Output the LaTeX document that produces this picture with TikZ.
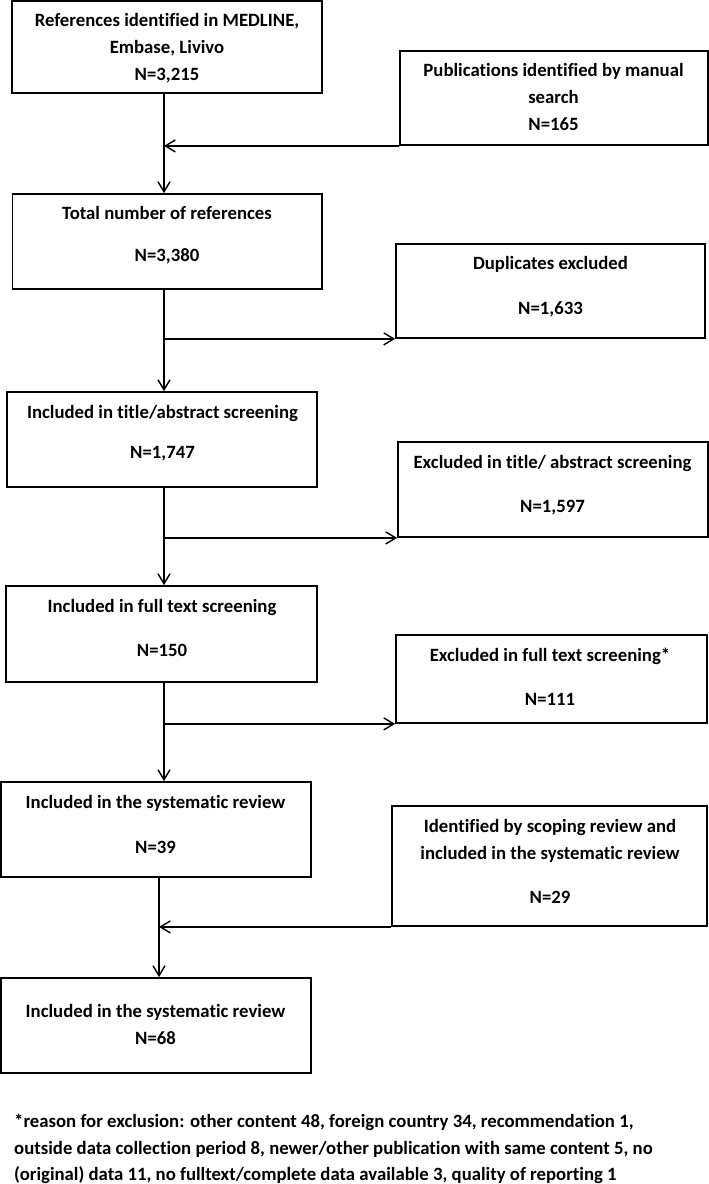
\documentclass[tikz,border=0pt]{standalone}
\usepackage{fontspec}
\setmainfont{Carlito}[Ligatures=NoCommon]
\usetikzlibrary{arrows.meta}
\begin{document}
\begin{tikzpicture}[x=1pt,y=-1pt,
  box/.style={draw=black, line width=1.8pt, rectangle, inner sep=0pt},
  txt/.style={inner sep=0pt, anchor=base, font=\fontsize{18.75}{27}\selectfont\bfseries},
  fnote/.style={inner sep=0pt, anchor=base west, font=\fontsize{18.75}{27}\selectfont\bfseries},
  conn/.style={line width=1.6pt, -{Straight Barb[length=10pt,width=12pt,line width=1.4pt]}}]
\useasboundingbox (0,0) rectangle (709,1184);
\fill[white] (0,0) rectangle (709,1184);

% boxes
\node[box, minimum width=310pt, minimum height=92pt] (b1) at (167,47) {};
\node[box, minimum width=308pt, minimum height=94pt] (pub) at (554,98) {};
\node[box, minimum width=309.5pt, minimum height=95pt] (tot) at (167.25,241.5) {};
\node[box, minimum width=309pt, minimum height=94pt] (dup) at (550.5,291) {};
\node[box, minimum width=310pt, minimum height=95pt] (tas) at (162,439.5) {};
\node[box, minimum width=310pt, minimum height=95pt] (exta) at (553,489.5) {};
\node[box, minimum width=311pt, minimum height=96pt] (fts) at (161.5,634) {};
\node[box, minimum width=311pt, minimum height=88pt] (exft) at (551.5,679) {};
\node[box, minimum width=310pt, minimum height=95pt] (sr) at (156,829.5) {};
\node[box, minimum width=315pt, minimum height=120pt] (scop) at (549.5,866) {};
\node[box, minimum width=310pt, minimum height=95pt] (fin) at (156,1025.5) {};

% texts
\node[txt] (b1t1) at (167,26.5) {References identified in MEDLINE,};
\node[txt] (b1t2) at (167,53.5) {Embase, Livivo};
\node[txt] (b1t3) at (167,80.5) {N=3,215};

\node[txt] (pubt1) at (553.5,76.5) {Publications identified by manual};
\node[txt] (pubt2) at (553.5,103.5) {search};
\node[txt] (pubt3) at (553.5,130.5) {N=165};

\node[txt] (tott1) at (167,219.5) {Total number of references};
\node[txt] (tott2) at (167,261.5) {N=3,380};

\node[txt] (dupt1) at (550.5,269.5) {Duplicates excluded};
\node[txt] (dupt2) at (550.5,314.5) {N=1,633};

\node[txt] (tast1) at (162.5,418.5) {Included in title/abstract screening};
\node[txt] (tast2) at (162.5,458.5) {N=1,747};

\node[txt] (extat1) at (552.5,468.5) {Excluded in title/ abstract screening};
\node[txt] (extat2) at (552.5,512.5) {N=1,597};

\node[txt] (ftst1) at (162,612.5) {Included in full text screening};
\node[txt] (ftst2) at (162,656.5) {N=150};

\node[txt] (exftt1) at (550,661.5) {Excluded in full text screening*};
\node[txt] (exftt2) at (550,705.5) {N=111};

\node[txt] (srt1) at (155.5,808.5) {Included in the systematic review};
\node[txt] (srt2) at (155.5,853.5) {N=39};

\node[txt] (scopt1) at (550,832.5) {Identified by scoping review and};
\node[txt] (scopt2) at (550,859.5) {included in the systematic review};
\node[txt] (scopt3) at (550,903.5) {N=29};

\node[txt] (fint1) at (155.5,1017.5) {Included in the systematic review};
\node[txt] (fint2) at (155.5,1044.5) {N=68};

\node[fnote] (fn1) at (14,1127.5) {*reason for exclusion: other content 48, foreign country 34, recommendation 1,};
\node[fnote] (fn2) at (14,1154.5) {outside data collection period 8, newer/other publication with same content 5, no};
\node[fnote] (fn3) at (14,1180.5) {(original) data 11, no fulltext/complete data available 3, quality of reporting 1};

% spine
\coordinate (xa) at (164,0);
\coordinate (xb) at (159,0);

\draw[conn] (b1.south -| xa) -- (tot.north -| xa);
\draw[conn] (pub.south west) -- (pub.south west -| xa);
\draw[conn] (tot.south -| xa) -- (tas.north -| xa);
\draw[conn] (dup.south west -| xa) -- (dup.south west);
\draw[conn] (tas.south -| xa) -- (fts.north -| xa);
\draw[conn] (exta.south west -| xa) -- (exta.south west);
\draw[conn] (fts.south -| xa) -- (sr.north -| xa);
\draw[conn] (exft.south west -| xa) -- (exft.south west);
\draw[conn] (sr.south -| xb) -- (fin.north -| xb);
\draw[conn] (scop.south west) -- (scop.south west -| xb);
\end{tikzpicture}
\end{document}
